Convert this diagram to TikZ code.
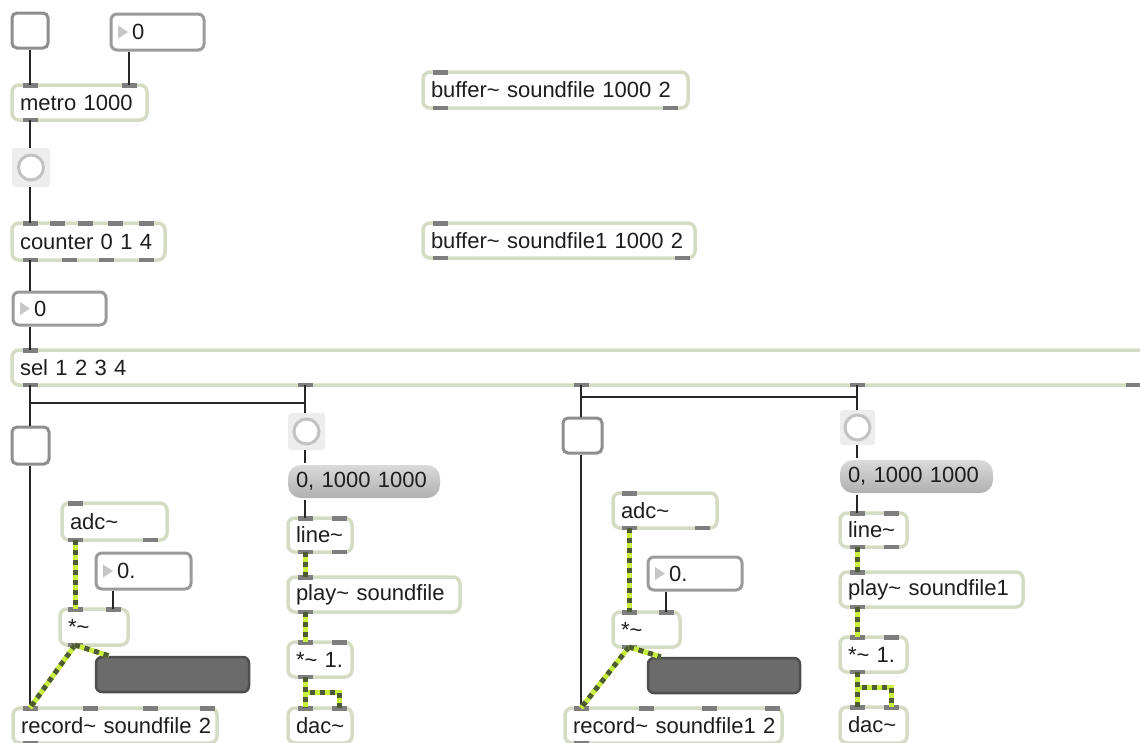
\documentclass[tikz,border=0pt]{standalone}
\usepackage{fontspec}
\newfontfamily\maxfont{Liberation Sans}
\definecolor{objedge}{HTML}{D4DCC4}
\definecolor{portc}{HTML}{7E7E7E}
\definecolor{numedge}{HTML}{9A9A9A}
\definecolor{numtri}{HTML}{C6C6C6}
\definecolor{togedge}{HTML}{8E8E8E}
\definecolor{bangbg}{HTML}{EDEDED}
\definecolor{bangring}{HTML}{C2C2C2}
\definecolor{meterfill}{HTML}{6B6B6B}
\definecolor{meteredge}{HTML}{4E4E4E}
\definecolor{msgtop}{HTML}{DADADA}
\definecolor{msgbot}{HTML}{B0B0B0}
\definecolor{sigyel}{HTML}{C8EE3E}
\definecolor{sigdark}{HTML}{4E5A34}
\definecolor{txt}{HTML}{1E1E1E}
\newcommand\tld{\textasciitilde}

% object box: [style]{name}{x1}{y1}{x2}{y2}{text}{inlet xs}{outlet xs}
\newcommand\mobj[9][objbox]{%
  \pgfmathsetmacro\mcx{(#3+#5)/2}%
  \pgfmathsetmacro\mcy{(#4+#6)/2}%
  \pgfmathsetmacro\mww{#5-#3}%
  \pgfmathsetmacro\mhh{#6-#4}%
  \pgfmathsetmacro\mtw{#5-#3-16}%
  \node[#1, minimum width=\mww pt, minimum height=\mhh pt, text width=\mtw pt] (#2) at (\mcx,\mcy) {\mbox{#7}};%
  \if\relax\detokenize{#8}\relax\else
    \foreach \p [count=\i] in {#8}{\fill[port] (\p-7.5,#4-2) rectangle (\p+7.5,#4+2.5); \coordinate (#2-i\i) at (\p,#4);}%
  \fi
  \if\relax\detokenize{#9}\relax\else
    \foreach \p [count=\i] in {#9}{\fill[port] (\p-7.5,#6-2.5) rectangle (\p+7.5,#6+2); \coordinate (#2-o\i) at (\p,#6);}%
  \fi
}
% plain box (toggle, bang background, meter): [style]{name}{x1}{y1}{x2}{y2}
\newcommand\gbox[6][togbox]{%
  \pgfmathsetmacro\mcx{(#3+#5)/2}%
  \pgfmathsetmacro\mcy{(#4+#6)/2}%
  \pgfmathsetmacro\mww{#5-#3}%
  \pgfmathsetmacro\mhh{#6-#4}%
  \node[#1, minimum width=\mww pt, minimum height=\mhh pt] (#2) at (\mcx,\mcy) {};%
}
% number box: {name}{x1}{y1}{x2}{y2}{value}
\newcommand\nbox[6]{%
  \gbox[numbox]{#1}{#2}{#3}{#4}{#5}%
  \fill[numtri] (#2+7,\mcy-6.5) -- (#2+17,\mcy) -- (#2+7,\mcy+6.5) -- cycle;
  \node[lbl, anchor=west] (#1-t) at (#2+21,\mcy) {#6};%
}

\begin{document}
\begin{tikzpicture}[x=1pt, y=-1pt,
  lbl/.style={font=\maxfont\fontsize{22}{26}\selectfont, text=txt, inner sep=0pt},
  objbox/.style={lbl, draw=objedge, line width=3.5pt, fill=white, rounded corners=7pt,
    inner xsep=8pt, inner ysep=0pt, align=left},
  msgbox/.style={objbox, draw=none, top color=msgtop, bottom color=msgbot, rounded corners=13pt},
  port/.style={fill=portc},
  numbox/.style={draw=numedge, line width=3pt, fill=white, rounded corners=6pt, inner sep=0pt},
  togbox/.style={draw=togedge, line width=3pt, fill=white, rounded corners=5pt, inner sep=0pt},
  bangsq/.style={fill=bangbg, draw=none, rounded corners=3pt, inner sep=0pt},
  bangc/.style={circle, draw=bangring, line width=3pt, fill=white, minimum size=25pt, inner sep=0pt},
  meterbox/.style={fill=meterfill, draw=meteredge, line width=2.5pt, rounded corners=6pt, inner sep=0pt},
  cord/.style={draw=black!85, line width=1.6pt},
  sig/.style={draw=sigyel, line width=5pt, postaction={draw=sigdark, line width=5pt, dash pattern=on 5pt off 5pt}}
]
\useasboundingbox (0,0) rectangle (1140,742);
\clip (0,0) rectangle (1140,742);
\fill[white] (0,0) rectangle (1140,742);

% ---- clock and counter chain
\gbox{tog1}{12}{13}{48}{48}
\nbox{num1}{111}{14}{204}{50}{0}
\mobj{metro}{12}{85}{147}{120}{metro 1000}{30,129}{30}
\gbox[bangsq]{bang1}{12}{148}{50}{187}
\node[bangc] (bang1c) at (bang1) {};
\mobj{counter}{12}{223}{165}{260}{counter 0 1 4}{30,57,85,115,146}{30,69,106,146}
\nbox{num2}{13}{292}{106}{325}{0}
\mobj{sel}{12}{350}{1170}{385}{sel 1 2 3 4}{30}{30,305,581,857,1133}

% ---- buffers
\mobj{buf1}{423}{72}{688}{108}{buffer\tld{} soundfile 1000 2}{440}{440,670}
\mobj{buf2}{423}{223}{695}{258}{buffer\tld{} soundfile1 1000 2}{440}{440,682}

% ---- first recorder / player
\gbox{tog2}{12}{427}{49}{464}
\gbox[bangsq]{bang2}{288}{413}{325}{450}
\node[bangc] (bang2c) at (bang2) {};
\mobj{adc1}{62}{503}{167}{540}{adc\tld}{75}{75,150}
\nbox{numf1}{96}{553}{191}{589}{0.}
\mobj{mul1}{60}{609}{128}{645}{*\tld}{75,113}{75}
\gbox[meterbox]{meter1}{96}{657}{249}{692}
\mobj{rec1}{13}{708}{217}{743}{record\tld{} soundfile 2}{30,90,150,207}{30}
\mobj[msgbox]{msg1}{288}{465}{440}{498}{0, 1000 1000}{}{}
\mobj{line1}{288}{518}{352}{552}{line\tld}{305,339}{305,339}
\mobj{play1}{288}{577}{460}{612}{play\tld{} soundfile}{305}{305}
\mobj{mul1b}{288}{642}{352}{677}{*\tld{} 1.}{305,339}{305}
\mobj{dac1}{288}{708}{352}{743}{dac\tld}{305,339}{}

% ---- second recorder / player
\gbox{tog3}{563}{418}{602}{453}
\gbox[bangsq]{bang3}{840}{410}{875}{445}
\node[bangc] (bang3c) at (bang3) {};
\mobj{adc2}{613}{493}{717}{528}{adc\tld}{629}{629,702}
\nbox{numf2}{648}{557}{742}{590}{0.}
\mobj{mul2}{613}{612}{680}{647}{*\tld}{629,666}{629}
\gbox[meterbox]{meter2}{648}{658}{800}{693}
\mobj{rec2}{565}{708}{782}{743}{record\tld{} soundfile1 2}{581,646,709,772}{581}
\mobj[msgbox]{msg2}{840}{460}{993}{493}{0, 1000 1000}{}{}
\mobj{line2}{840}{513}{907}{547}{line\tld}{857,891}{857,891}
\mobj{play2}{840}{572}{1023}{607}{play\tld{} soundfile1}{857}{857}
\mobj{mul2b}{840}{637}{907}{672}{*\tld{} 1.}{857,891}{857}
\mobj{dac2}{840}{707}{907}{743}{dac\tld}{857,891}{}

% ---- control cords
\draw[cord] (metro-i1 |- tog1.south) -- (metro-i1);
\draw[cord] (metro-i2 |- num1.south) -- (metro-i2);
\draw[cord] (metro-o1) -- (metro-o1 |- bang1.north);
\draw[cord] (counter-i1 |- bang1.south) -- (counter-i1);
\draw[cord] (counter-o1) -- (counter-o1 |- num2.north);
\draw[cord] (sel-i1 |- num2.south) -- (sel-i1);

\draw[cord] (sel-o1) -- (sel-o1 |- tog2.north);
\draw[cord] (sel-o2) -- (sel-o2 |- bang2.north);
\draw[cord] (sel-o2) -- ++(0,18) -| (sel-o1 |- tog2.north);
\draw[cord] (rec1-i1 |- tog2.south) -- (rec1-i1);
\draw[cord] (sel-o2 |- bang2.south) -- (sel-o2 |- msg1.north);
\draw[cord] (line1-i1 |- msg1.south) -- (line1-i1);
\draw[cord] (mul1-i2 |- numf1.south) -- (mul1-i2);

\draw[cord] (sel-o3) -- (sel-o3 |- tog3.north);
\draw[cord] (sel-o4) -- (sel-o4 |- bang3.north);
\draw[cord] (sel-o4) -- ++(0,12) -| (sel-o3 |- tog3.north);
\draw[cord] (rec2-i1 |- tog3.south) -- (rec2-i1);
\draw[cord] (sel-o4 |- bang3.south) -- (sel-o4 |- msg2.north);
\draw[cord] (line2-i1 |- msg2.south) -- (line2-i1);
\draw[cord] (mul2-i2 |- numf2.south) -- (mul2-i2);

% ---- signal cords
\draw[sig] (adc1-o1) -- (mul1-i1);
\draw[sig] (mul1-o1) -- (rec1-i1);
\draw[sig] (mul1-o1) -- ([xshift=14pt]meter1.north west);
\draw[sig] (line1-o1) -- (play1-i1);
\draw[sig] (play1-o1) -- (mul1b-i1);
\draw[sig] (mul1b-o1) -- (dac1-i1);
\draw[sig] (mul1b-o1) -- ++(0,15) -| (dac1-i2);

\draw[sig] (adc2-o1) -- (mul2-i1);
\draw[sig] (mul2-o1) -- (rec2-i1);
\draw[sig] (mul2-o1) -- ([xshift=14pt]meter2.north west);
\draw[sig] (line2-o1) -- (play2-i1);
\draw[sig] (play2-o1) -- (mul2b-i1);
\draw[sig] (mul2b-o1) -- (dac2-i1);
\draw[sig] (mul2b-o1) -- ++(0,15) -| (dac2-i2);
\end{tikzpicture}
\end{document}
